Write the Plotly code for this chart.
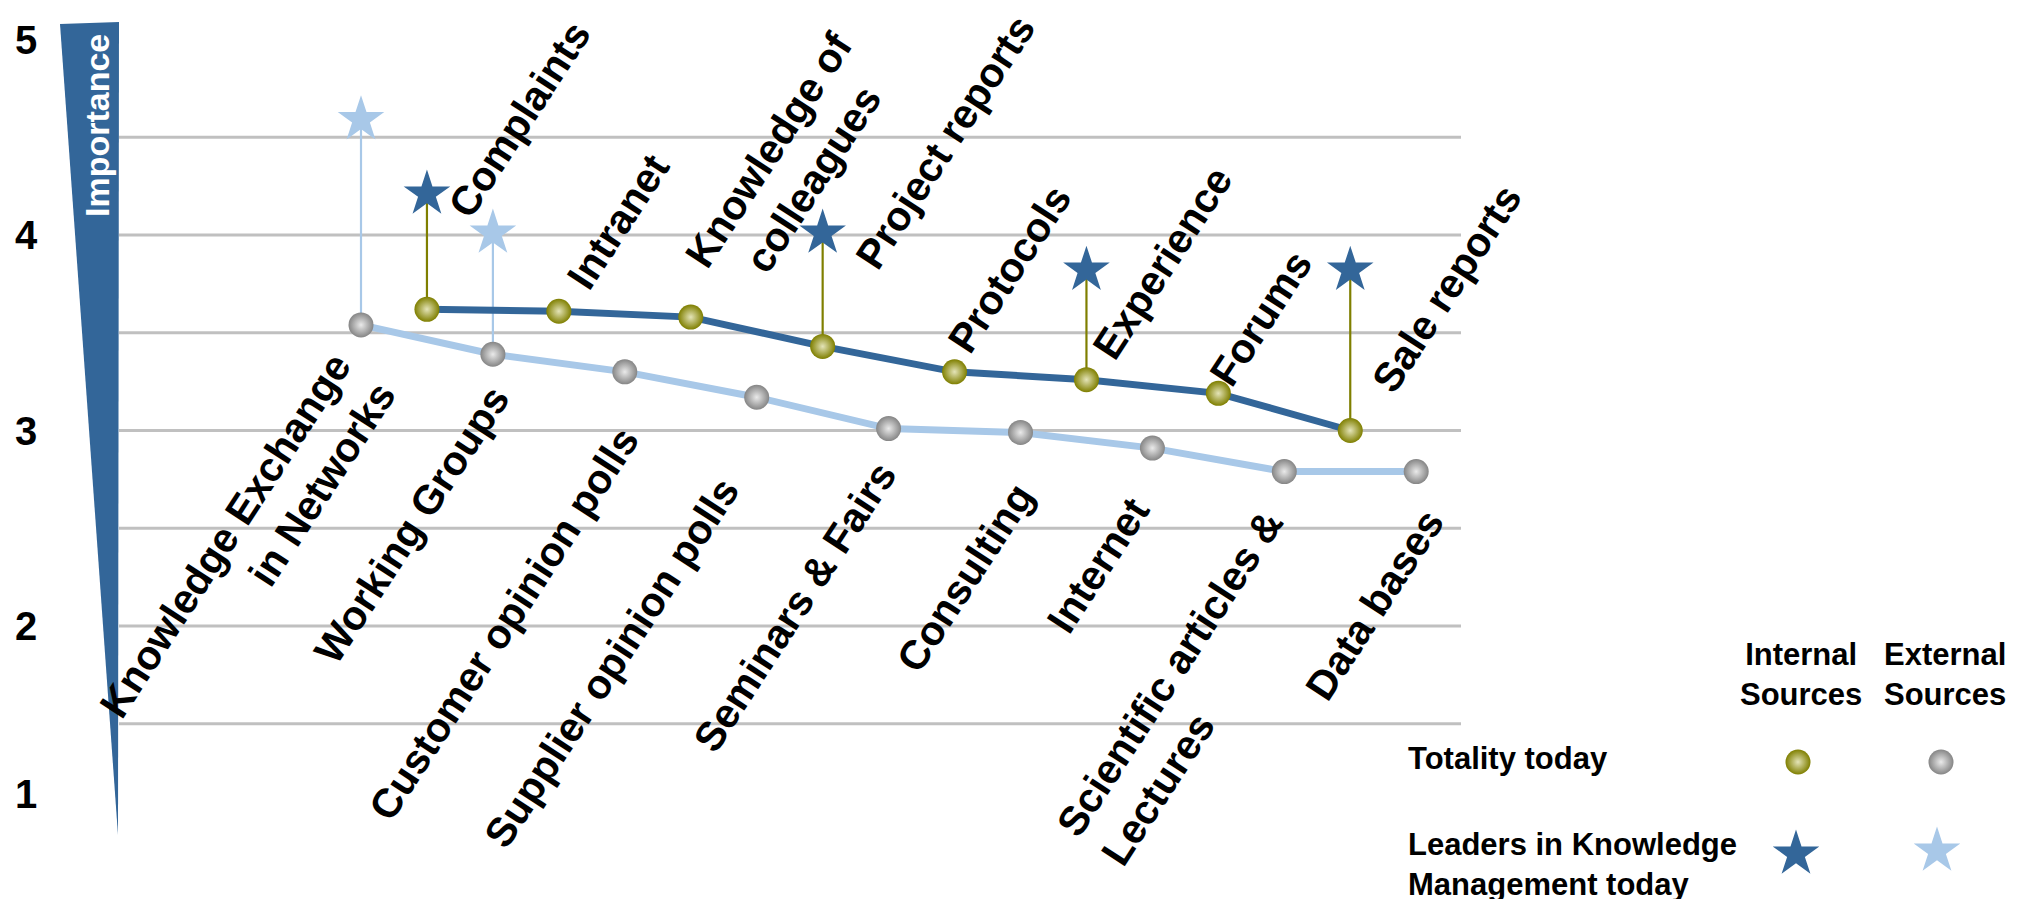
import plotly.graph_objects as go

# ---- data -------------------------------------------------------------
# Internal sources: importance for all companies today and for KM leaders
internal_labels = ["Complaints", "Intranet", "Knowledge of<br>colleagues", "Project reports",
                   "Protocols", "Experience", "Forums", "Sale reports"]
internal_today = [3.62, 3.61, 3.58, 3.43, 3.30, 3.26, 3.19, 3.00]
internal_leaders = [4.21, None, None, 4.01, None, 3.82, None, 3.82]

# External sources
external_labels = ["Knowledge Exchange<br>in Networks", "Working Groups", "Customer opinion polls",
                   "Supplier opinion polls", "Seminars &amp; Fairs", "Consulting", "Internet",
                   "Scientific articles &amp;<br>Lectures", "Data bases"]
external_today = [3.54, 3.39, 3.30, 3.17, 3.01, 2.99, 2.91, 2.79, 2.79]
external_leaders = [4.59, 4.01, None, None, None, None, None, None, None]

importance_ticks = [5, 4, 3, 2, 1]
grid_levels = [1.5, 2, 2.5, 3, 3.5, 4, 4.5]

# ---- styling ----------------------------------------------------------
DARK = "#336699"
LIGHT = "#A8C8E8"
OLIVE = "#7F7F00"
GRAY = "#858585"
GRID = "#C0C0C0"
FONT = "Liberation Sans, Arial, sans-serif"

# categories alternate along the axis: external, internal, external, ...
ext_x = [2 * i for i in range(len(external_labels))]
int_x = [2 * i + 1 for i in range(len(internal_labels))]

W, H = 2033, 899

fig = go.Figure()

olive_marker = dict(size=25, color=OLIVE, line=dict(width=0),
                    gradient=dict(type="radial", color="#E4E4B8"))
gray_marker = dict(size=25, color=GRAY, line=dict(width=0),
                   gradient=dict(type="radial", color="#EAEAEA"))
STAR_SIZE = 35

# stems from today's value up to the leaders' value
for xs, today, leaders, col in [(int_x, internal_today, internal_leaders, OLIVE),
                                (ext_x, external_today, external_leaders, LIGHT)]:
    for x, t, l in zip(xs, today, leaders):
        if l is None:
            continue
        fig.add_trace(go.Scatter(x=[x, x], y=[t, l], mode="lines",
                                 line=dict(color=col, width=2.2),
                                 hoverinfo="skip", showlegend=False))

# today's lines with markers
fig.add_trace(go.Scatter(x=ext_x, y=external_today, mode="lines+markers",
                         line=dict(color=LIGHT, width=7), marker=gray_marker,
                         showlegend=False))
fig.add_trace(go.Scatter(x=int_x, y=internal_today, mode="lines+markers",
                         line=dict(color=DARK, width=7), marker=olive_marker,
                         showlegend=False))

# leaders' stars
def star_points(xs, vals):
    px = [x for x, v in zip(xs, vals) if v is not None]
    py = [v for v in vals if v is not None]
    return px, py

sx, sy = star_points(int_x, internal_leaders)
fig.add_trace(go.Scatter(x=sx, y=sy, mode="markers",
                         marker=dict(symbol="star", size=STAR_SIZE, color=DARK, line=dict(width=0)),
                         showlegend=False))
sx, sy = star_points(ext_x, external_leaders)
fig.add_trace(go.Scatter(x=sx, y=sy, mode="markers",
                         marker=dict(symbol="star", size=STAR_SIZE, color=LIGHT, line=dict(width=0)),
                         showlegend=False))

# ---- category labels (rotated) ------------------------------------------
ANGLE = -57
LABEL_FONT = dict(family=FONT, size=41, color="black")
ext_shift = [(-113, 225), (-81, 171), (-121, 252), (-145, 266), (-94, 178),
             (-55, 146), (-54, 117), (-92, 216), (-42, 133)]
ext_align = ["right", "center", "center", "center", "center", "center", "center", "left", "center"]
int_shift = [(93, -190), (60, -90), (100, -153), (123, -204), (55, -103),
             (76, -117), (43, -75), (96, -142)]

annotations = []
for x, v, lab, (dx, dy), al in zip(ext_x, external_today, external_labels, ext_shift, ext_align):
    annotations.append(dict(x=x, y=v, xref="x", yref="y", text="<b>%s</b>" % lab,
                            showarrow=False, textangle=ANGLE, font=LABEL_FONT, align=al,
                            xanchor="center", yanchor="middle", xshift=dx, yshift=-dy))
for x, v, lab, (dx, dy) in zip(int_x, internal_today, internal_labels, int_shift):
    annotations.append(dict(x=x, y=v, xref="x", yref="y", text="<b>%s</b>" % lab,
                            showarrow=False, textangle=ANGLE, font=LABEL_FONT, align="center",
                            xanchor="center", yanchor="middle", xshift=dx, yshift=-dy))

# importance scale numbers
for t in importance_ticks:
    annotations.append(dict(x=26 / W, y=t, xref="paper", yref="y", text="<b>%d</b>" % t,
                            showarrow=False, font=dict(family=FONT, size=40, color="black"),
                            xanchor="center", yanchor="middle",
                            yshift=28 if t == 1 else 0))

# wedge caption
annotations.append(dict(x=97 / W, y=1 - 126 / H, xref="paper", yref="paper",
                        text="<b>Importance</b>", showarrow=False, textangle=-90,
                        font=dict(family=FONT, size=34, color="white"),
                        xanchor="center", yanchor="middle"))

# ---- key --------------------------------------------------------------
KEY_FONT = dict(family=FONT, size=31, color="black")
annotations += [
    dict(x=1801, y=674, xref="x2", yref="y2", text="<b>Internal<br>Sources</b>",
         showarrow=False, font=KEY_FONT, align="center", xanchor="center", yanchor="middle"),
    dict(x=1945, y=674, xref="x2", yref="y2", text="<b>External<br>Sources</b>",
         showarrow=False, font=KEY_FONT, align="center", xanchor="center", yanchor="middle"),
    dict(x=1406, y=758, xref="x2", yref="y2", text="<b>Totality today</b>",
         showarrow=False, font=KEY_FONT, align="left", xanchor="left", yanchor="middle"),
    dict(x=1406, y=864, xref="x2", yref="y2",
         text="<b>Leaders in Knowledge<br>Management today</b>",
         showarrow=False, font=KEY_FONT, align="left", xanchor="left", yanchor="middle"),
]
fig.add_trace(go.Scatter(x=[1798], y=[762], xaxis="x2", yaxis="y2", mode="markers",
                         marker=olive_marker, showlegend=False, hoverinfo="skip"))
fig.add_trace(go.Scatter(x=[1941], y=[762], xaxis="x2", yaxis="y2", mode="markers",
                         marker=gray_marker, showlegend=False, hoverinfo="skip"))
fig.add_trace(go.Scatter(x=[1796], y=[854], xaxis="x2", yaxis="y2", mode="markers",
                         marker=dict(symbol="star", size=STAR_SIZE, color=DARK), showlegend=False,
                         hoverinfo="skip"))
fig.add_trace(go.Scatter(x=[1937], y=[851], xaxis="x2", yaxis="y2", mode="markers",
                         marker=dict(symbol="star", size=STAR_SIZE, color=LIGHT), showlegend=False,
                         hoverinfo="skip"))

# ---- shapes: grid and wedge -------------------------------------------
shapes = []
for g in grid_levels:
    shapes.append(dict(type="line", xref="paper", yref="y", x0=119 / W, x1=1461 / W,
                       y0=g, y1=g, line=dict(color=GRID, width=3), layer="below"))
shapes.append(dict(type="path", xref="paper", yref="paper",
                   path="M %f,%f L %f,%f L %f,%f Z" % (60 / W, 1 - 24 / H, 119 / W, 1 - 22 / H,
                                                       118 / W, 1 - 835 / H),
                   fillcolor=DARK, line=dict(width=0), layer="below"))

# axis scaling: slot spacing and importance units
slot_px = 65.95
slot0_px = 361
unit_px = 195.5
y4_px = 235
x_range = [-slot0_px / slot_px, (W - slot0_px) / slot_px]
y_range = [4 - (H - y4_px) / unit_px, 4 + y4_px / unit_px]

fig.update_layout(
    width=W, height=H, margin=dict(l=0, r=0, t=0, b=0),
    paper_bgcolor="white", plot_bgcolor="white",
    xaxis=dict(range=x_range, visible=False, fixedrange=True),
    yaxis=dict(range=y_range, visible=False, fixedrange=True),
    xaxis2=dict(range=[0, W], visible=False, overlaying="x", fixedrange=True),
    yaxis2=dict(range=[H, 0], visible=False, overlaying="y", fixedrange=True),
    shapes=shapes, annotations=annotations, showlegend=False,
    font=dict(family=FONT),
)

fig.write_html("out.html")
